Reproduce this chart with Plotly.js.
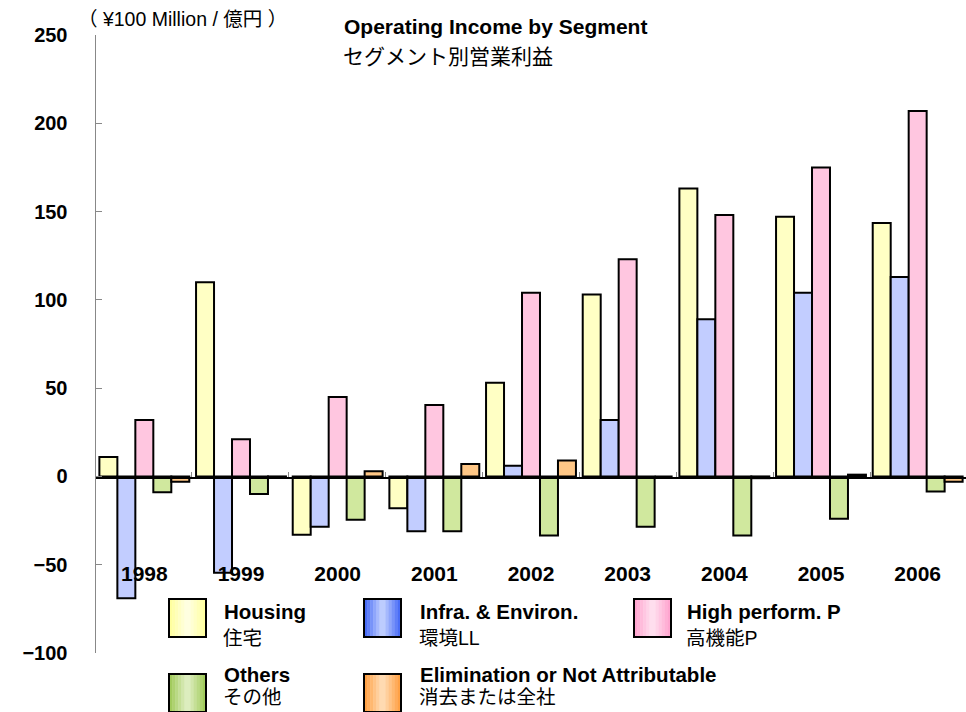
<!DOCTYPE html>
<html><head><meta charset="utf-8">
<script src="https://cdn.plot.ly/plotly-3.0.1.min.js"></script>
<style>html,body{margin:0;padding:0;background:#fff}#chart{width:966px;height:712px}</style>
</head><body><div id="chart"></div>
<script>
// ---- data ----
const years = ['1998','1999','2000','2001','2002','2003','2004','2005','2006'];
const housing     = [11, 110, -33, -18, 53, 103, 163, 147, 143.5];
const infra       = [-69, -54.5, -28.5, -31, 6, 32, 89, 104, 113];
const highPerf    = [32, 21, 45, 40.5, 104, 123, 148, 175, 207];
const others      = [-9, -10, -24.5, -31, -33.5, -28.5, -33.5, -24, -8.5];
const elimination = [-3, -0.8, 3, 7, 9, 0, -1, 1, -3];
const namesEn = ['Housing','Infra. & Environ.','High perform. P','Others','Elimination or Not Attributable'];
const namesJa = ['住宅','環境LL','高機能P','その他','消去または全社'];
const yTicks = [-100,-50,0,50,100,150,200,250];
const titleEn = 'Operating Income by Segment';
const titleJa = 'セグメント別営業利益';
const unitLabel = '（ ¥100 Million / 億円 ）';

// ---- styling ----
const W = 966, H = 712, L = 96, R = 0, T = 35, B = 59;
const pw = W - L - R, ph = H - T - B;
const fx = p => (p - L) / pw;
const fy = p => (H - B - p) / ph;
const barColors = ['#FFFFC4','#C2CDFF','#FFC6E0','#D0E89E','#FFC786'];
const swEdge   = ['#FFFF99','#3F63F5','#FF9FCC','#9CC853','#FF9B3A'];
const swCenter = ['#FFFFE6','#C8D6FF','#FFE4F1','#E2F0C8','#FFE0BC'];
const latin = 'Liberation Sans, Arial, sans-serif';
const cjk = 'Noto Sans CJK JP, sans-serif';
const mixed = 'Liberation Sans, Noto Sans CJK JP, sans-serif';

const series = [housing, infra, highPerf, others, elimination];
const traces = series.map((vals, i) => ({
  type: 'bar', x: years, y: vals, name: namesEn[i] + ' ' + namesJa[i],
  marker: {color: barColors[i], line: {color: '#000', width: 2}},
  hoverinfo: 'x+y'
}));
traces.push({type: 'scatter', mode: 'markers', x: years, y: years.map(() => 0),
  xaxis: 'x2', yaxis: 'y', marker: {opacity: 0, size: 1}, hoverinfo: 'skip', showlegend: false});

const shapes = [], annotations = [];
// legend (custom, large swatches): [swatchX, swatchY, textX, englishY, japaneseY]
const legPos = [[169,599,222,611,638],[364,599,418,611,638],[634,599,685,611,638],
                [169,674,222,674,697],[364,674,418,674,697]];
const swW = 37, swH = 38, strips = 12;
legPos.forEach((p, i) => {
  const [sx, sy, tx, ey, jy] = p;
  const hex = c => [1,3,5].map(k => parseInt(c.substr(k,2),16));
  const e = hex(swEdge[i]), c = hex(swCenter[i]);
  for (let k = 0; k < strips; k++) {
    const t = 1 - Math.abs((k + 0.5) / strips * 2 - 1);
    const col = 'rgb(' + e.map((v, j) => Math.round(v + (c[j] - v) * t)).join(',') + ')';
    shapes.push({type: 'rect', xref: 'paper', yref: 'paper', layer: 'above',
      x0: fx(sx + swW * k / strips), x1: fx(sx + swW * (k + 1) / strips + 0.5),
      y0: fy(sy + swH), y1: fy(sy), fillcolor: col, line: {width: 0}});
  }
  shapes.push({type: 'rect', xref: 'paper', yref: 'paper', layer: 'above',
    x0: fx(sx), x1: fx(sx + swW), y0: fy(sy + swH), y1: fy(sy),
    fillcolor: 'rgba(0,0,0,0)', line: {color: '#000', width: 2}});
  annotations.push({xref: 'paper', yref: 'paper', x: fx(tx), y: fy(ey), xanchor: 'left', yanchor: 'middle',
    text: '<b>' + namesEn[i] + '</b>', showarrow: false, font: {family: latin, size: 20.5, color: '#000'}});
  annotations.push({xref: 'paper', yref: 'paper', x: fx(tx - 1), y: fy(jy), xanchor: 'left', yanchor: 'middle',
    text: namesJa[i], showarrow: false, font: {family: mixed, size: 19.5, color: '#000'}});
});
// titles
annotations.push({xref: 'paper', yref: 'paper', x: fx(342), y: fy(27), xanchor: 'left', yanchor: 'middle',
  text: '<b>' + titleEn + '</b>', showarrow: false, font: {family: latin, size: 21, color: '#000'}});
annotations.push({xref: 'paper', yref: 'paper', x: fx(341), y: fy(55), xanchor: 'left', yanchor: 'middle',
  text: titleJa, showarrow: false, font: {family: cjk, size: 21, color: '#000'}});
annotations.push({xref: 'paper', yref: 'paper', x: fx(76), y: fy(19), xanchor: 'left', yanchor: 'middle',
  text: unitLabel, showarrow: false, font: {family: mixed, size: 19.5, color: '#000'}});

const layout = {
  width: W, height: H, margin: {l: L, r: R, t: T, b: B},
  paper_bgcolor: '#fff', plot_bgcolor: '#fff', showlegend: false,
  barmode: 'group', bargap: 0.07, bargroupgap: 0,
  font: {family: latin, color: '#000'},
  xaxis: {type: 'category', anchor: 'free', position: fy(559), showline: false, ticks: '',
    showgrid: false, zeroline: false, tickfont: {family: latin, size: 21, weight: 'bold', color: '#000'}},
  xaxis2: {type: 'category', overlaying: 'x', anchor: 'free', position: fy(477), side: 'bottom',
    showline: true, linecolor: '#000', linewidth: 1.5, ticks: 'inside', ticklen: 5, tickwidth: 1,
    tickcolor: '#888', tickson: 'boundaries', showticklabels: false, showgrid: false, zeroline: false},
  yaxis: {range: [-100, 250], tickmode: 'array', tickvals: yTicks, showgrid: false, zeroline: false,
    showline: true, linecolor: '#888', linewidth: 1.5, ticks: 'inside', ticklen: 6, tickcolor: '#888',
    tickfont: {family: latin, size: 20, weight: 'bold', color: '#000'}, ticklabelstandoff: 23},
  shapes: shapes, annotations: annotations
};
Plotly.newPlot('chart', traces, layout, {staticPlot: true});
</script></body></html>
